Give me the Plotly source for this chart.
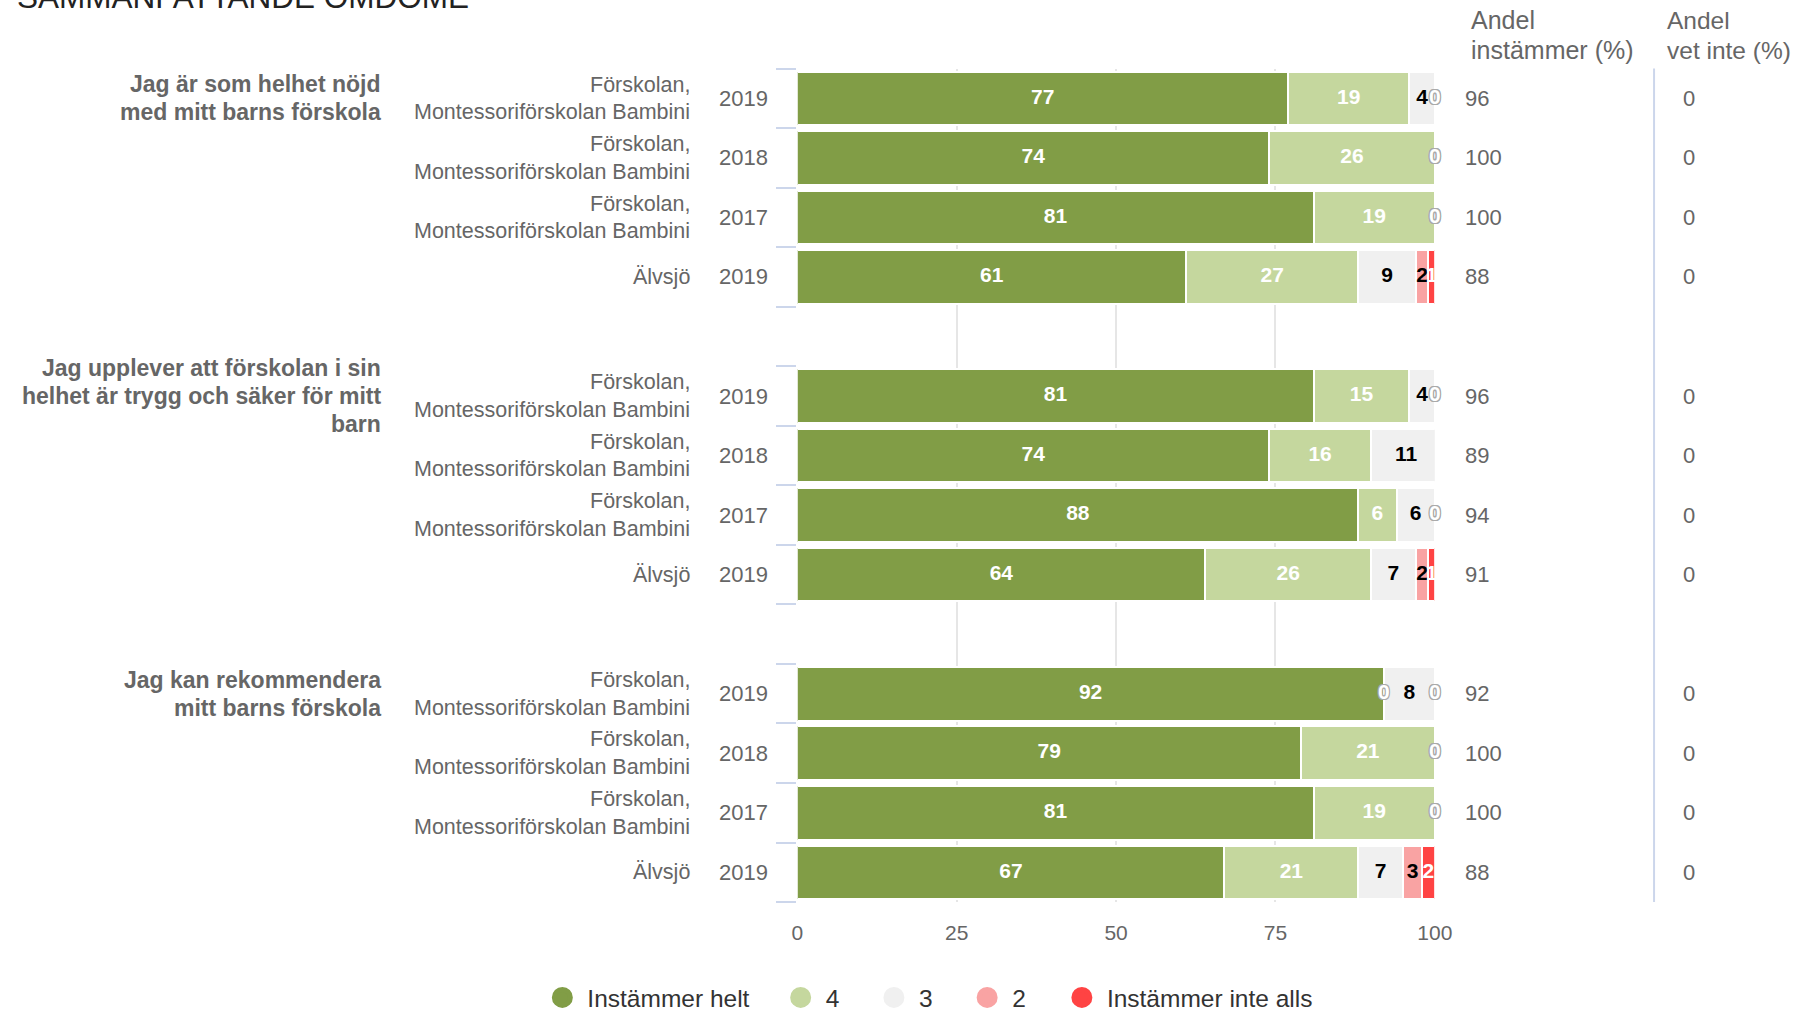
import numpy as np
import plotly.graph_objects as go

# ---------------- data ----------------
questions = [
    "Jag är som helhet nöjd<br>med mitt barns förskola",
    "Jag upplever att förskolan i sin<br>helhet är trygg och säker för mitt<br>barn",
    "Jag kan rekommendera<br>mitt barns förskola",
]
units = ["Förskolan,<br>Montessoriförskolan Bambini"] * 3 + ["Älvsjö"]
years = ["2019", "2018", "2017", "2019"]

series_names = ["Instämmer helt", "4", "3", "2", "Instämmer inte alls"]
helt = [77, 74, 81, 61, 81, 74, 88, 64, 92, 79, 81, 67]
fyra = [19, 26, 19, 27, 15, 16, 6, 26, 0, 21, 19, 21]
tre = [4, 0, 0, 9, 4, 11, 6, 7, 8, 0, 0, 7]
tva = [0, 0, 0, 2, 0, 0, 0, 2, 0, 0, 0, 3]
inte_alls = [0, 0, 0, 1, 0, 0, 0, 1, 0, 0, 0, 2]
andel_instammer = [96, 100, 100, 88, 96, 89, 94, 91, 92, 100, 100, 88]
andel_vet_inte = [0, 0, 0, 0, 0, 0, 0, 0, 0, 0, 0, 0]
x_ticks = [0, 25, 50, 75, 100]
col_headers = ["Andel<br>instämmer (%)", "Andel<br>vet inte (%)"]
title_text = "SAMMANFATTANDE OMDÖME"

# ---------------- styling ----------------
W, H = 1810, 1020
FONT = "Liberation Sans, Arial, sans-serif"
GRAY = "#666666"
colors = ["#819d46", "#c5d79e", "#f0f0f0", "#f9a3a3", "#ff4343"]
label_colors = ["#ffffff", "#ffffff", "#000000", "#000000", "#ffffff"]

series = [helt, fyra, tre, tva, inte_alls]
n_groups = len(questions)
per_group = len(years)
pos = [g * (per_group + 1) + i for g in range(n_groups) for i in range(per_group)]
n_slots = n_groups * (per_group + 1) - 1   # 14 category slots (12 bars + 2 spacers)

fig = go.Figure()

# stacked bars
for name, vals, col in zip(series_names, series, colors):
    fig.add_trace(go.Bar(
        x=vals, y=pos, orientation="h", name=name,
        marker=dict(color=col, line=dict(color="#ffffff", width=2)),
        width=0.9, showlegend=False, hoverinfo="x+name",
    ))

# data labels (centred on each segment)
arr = np.array(series, dtype=float)
starts = np.vstack([np.zeros(arr.shape[1]), np.cumsum(arr, axis=0)[:-1]])
mids = starts + arr / 2
zx, zy = [], []
for s in range(len(series)):
    xs, ys, ts = [], [], []
    for r in range(arr.shape[1]):
        if arr[s, r] == 0:
            zx.append(mids[s, r]); zy.append(pos[r])
        else:
            xs.append(mids[s, r]); ys.append(pos[r]); ts.append(str(int(arr[s, r])))
    fig.add_trace(go.Scatter(
        x=xs, y=ys, text=ts, mode="text", textposition="middle center",
        textfont=dict(family=FONT, size=21, color=label_colors[s], weight="bold"),
        showlegend=False, hoverinfo="skip", cliponaxis=False,
    ))
fig.add_trace(go.Scatter(
    x=zx, y=zy, text=["0"] * len(zx), mode="text", textposition="middle center",
    textfont=dict(family=FONT, size=21, color="#ffffff", weight="bold",
                  shadow="-1px -1px 0 #aaa, 1px -1px 0 #aaa, -1px 1px 0 #aaa, 1px 1px 0 #aaa"),
    showlegend=False, hoverinfo="skip", cliponaxis=False,
))

# legend entries (circles), each in its own legend for exact spacing
legend_centers = [564.5, 806, 900.5, 995, 1091]
ITEMW = 40
sym_off = (ITEMW + 10) / 2 + 1
for k, (name, col) in enumerate(zip(series_names, colors)):
    lg = "legend" if k == 0 else f"legend{k + 1}"
    fig.add_trace(go.Scatter(
        x=[None], y=[None], mode="markers", name=name, legend=lg,
        marker=dict(color=col, size=16, symbol="circle", line=dict(color=col, width=5)),
        showlegend=True,
    ))

legend_layouts = {}
for k, cx in enumerate(legend_centers):
    lg = "legend" if k == 0 else f"legend{k + 1}"
    legend_layouts[lg] = dict(
        x=(cx - sym_off) / W, xanchor="left", y=1 - 1007.5 / H, yanchor="middle",
        orientation="h", bgcolor="rgba(0,0,0,0)", itemwidth=ITEMW,
        font=dict(family=FONT, size=24.5, color="#333333"),
        itemclick=False, itemdoubleclick=False,
    )

annotations = []


def add_lines(text, x, xanchor, y, yref, size, pitch, bold=False, align="right"):
    """Place a multi-line label line by line so the line pitch matches the reference."""
    lines = text.split("<br>")
    n = len(lines)
    for j, line in enumerate(lines):
        annotations.append(dict(
            x=x, xref="paper", xanchor=xanchor, y=y, yref=yref, yanchor="middle",
            yshift=((n - 1) / 2 - j) * pitch,
            text=f"<b>{line}</b>" if bold else line, align=align, showarrow=False,
            font=dict(family=FONT, size=size, color=GRAY),
        ))


# question labels (centred on the first row of their group)
for g, q in enumerate(questions):
    add_lines(q, 382 / W, "right", pos[g * per_group], "y", 23, 28, bold=True)

for r in range(len(pos)):
    add_lines(units[r % per_group], 695 / W, "right", pos[r], "y", 21.5, 27.7)
    add_lines(years[r % per_group], 774 / W, "right", pos[r], "y", 22, 27.7)
    add_lines(str(andel_instammer[r]), 1477 / W, "left", pos[r], "y", 22, 27.7, align="left")
    add_lines(str(andel_vet_inte[r]), 1706 / W, "center", pos[r], "y", 22, 27.7, align="center")

# column headers
add_lines(col_headers[0], 1483 / W, "left", 1 - 35.8 / H, "paper", 25, 30, align="left")
add_lines(col_headers[1], 1681 / W, "left", 1 - 35.8 / H, "paper", 24.5, 30, align="left")

# title (partly cut off at top as in the reference)
annotations.append(dict(
    x=9 / W, xref="paper", xanchor="left", y=1 - 17 / H, yref="paper", yanchor="bottom",
    text=title_text, showarrow=False,
    font=dict(family=FONT, size=31.5, color="#222222"),
))

fig.update_layout(
    width=W, height=H, autosize=False,
    margin=dict(l=0, r=0, t=0, b=0),
    paper_bgcolor="#ffffff", plot_bgcolor="#ffffff",
    barmode="stack",
    font=dict(family=FONT, color=GRAY),
    xaxis=dict(
        domain=[802 / W, 1448 / W], range=[0, 100], tickvals=x_ticks,
        showgrid=True, gridcolor="#e6e6e6", gridwidth=2, zeroline=False, showline=False,
        ticks="", tickfont=dict(family=FONT, size=21, color=GRAY), ticklabelstandoff=16,
        fixedrange=True,
    ),
    yaxis=dict(
        domain=[1 - 911 / H, 1 - 69.3 / H], range=[n_slots - 0.5, -0.5],
        tickvals=[k - 0.5 for k in range(n_slots + 1)], ticks="outside", ticklen=20,
        tickwidth=2, tickcolor="#ccd6eb", showticklabels=False,
        showgrid=False, zeroline=False, showline=False, fixedrange=True,
    ),
    shapes=[dict(
        type="line", xref="paper", x0=1670.2 / W, x1=1670.2 / W,
        yref="y domain", y0=0, y1=1, line=dict(color="#ccd6eb", width=2),
    )],
    annotations=annotations,
    **legend_layouts,
)

fig.write_html(
    "out.html",
    config={"displayModeBar": False},
    post_script="document.body.style.margin='0';document.body.style.overflow='hidden';",
)
